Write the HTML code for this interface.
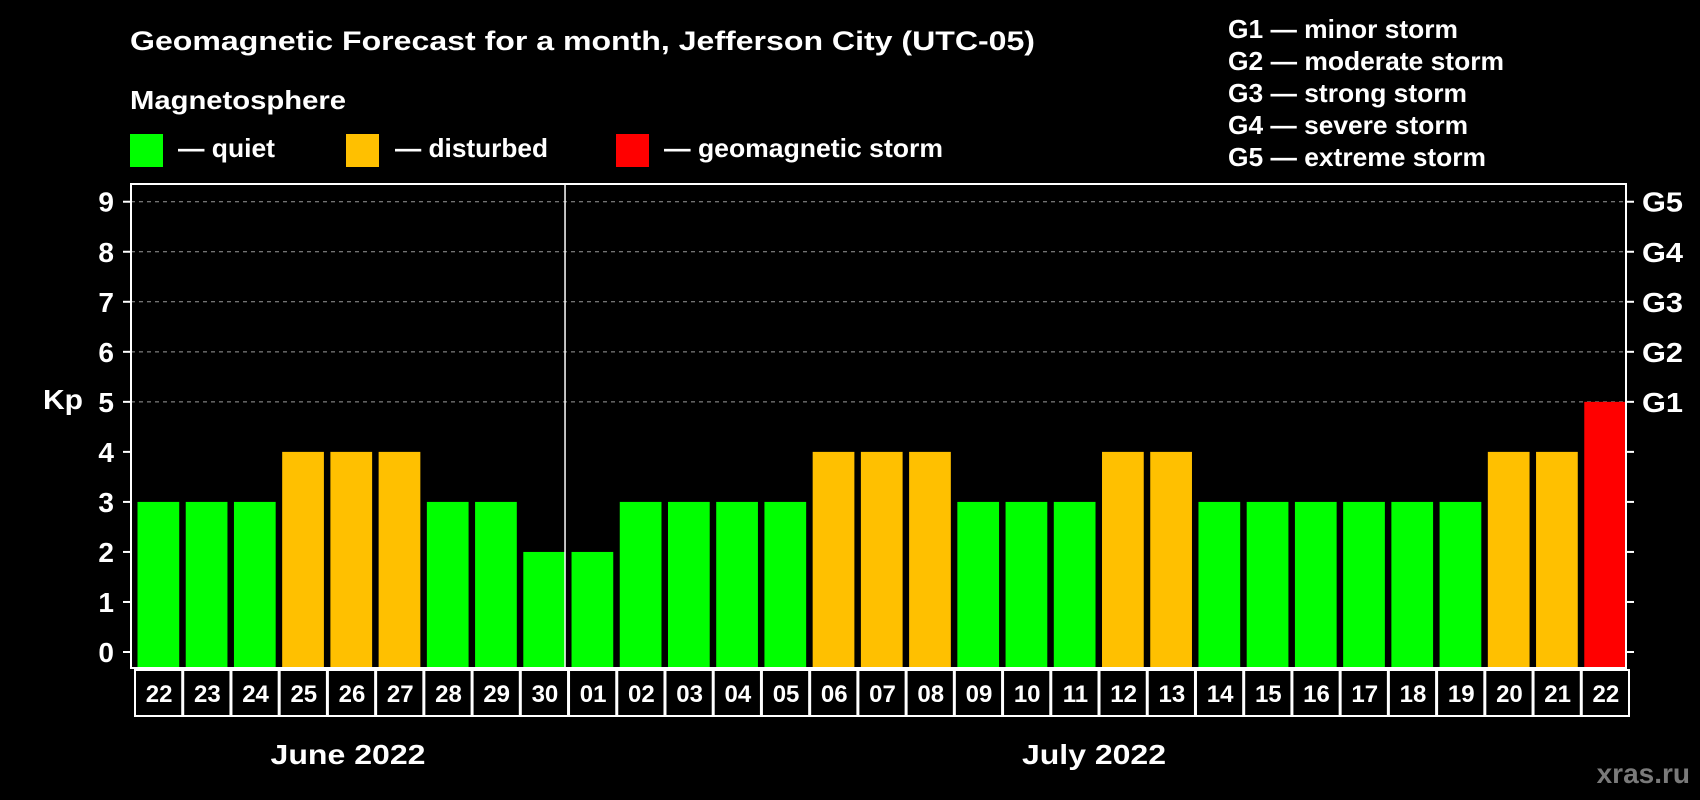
<!DOCTYPE html>
<html><head><meta charset="utf-8"><style>
html,body{margin:0;padding:0;background:#000;width:1700px;height:800px;overflow:hidden}
svg text{font-family:"Liberation Sans",Arial,sans-serif;font-weight:bold;fill:#fff}
</style></head><body>
<svg id="chart" width="1700" height="800" viewBox="0 0 1700 800">
<text x="130" y="50" font-size="27" textLength="905" lengthAdjust="spacingAndGlyphs">Geomagnetic Forecast for a month, Jefferson City (UTC-05)</text>
<text x="130" y="109" font-size="26" textLength="216" lengthAdjust="spacingAndGlyphs">Magnetosphere</text>
<rect x="130" y="134" width="33" height="33" fill="#00ff00"/>
<text x="178" y="157" font-size="26" textLength="97" lengthAdjust="spacingAndGlyphs">— quiet</text>
<rect x="346" y="134" width="33" height="33" fill="#ffc000"/>
<text x="395" y="157" font-size="26" textLength="153" lengthAdjust="spacingAndGlyphs">— disturbed</text>
<rect x="616" y="134" width="33" height="33" fill="#ff0000"/>
<text x="664" y="157" font-size="26" textLength="279" lengthAdjust="spacingAndGlyphs">— geomagnetic storm</text>
<g id="glegend"></g>
<g id="grid"></g><g id="bars"></g><g id="axes"></g>
<text x="43" y="409" font-size="28" textLength="40" lengthAdjust="spacingAndGlyphs">Kp</text>
<text x="348" y="764" font-size="28" text-anchor="middle" textLength="155" lengthAdjust="spacingAndGlyphs">June 2022</text>
<text x="1094" y="764" font-size="28" text-anchor="middle" textLength="144" lengthAdjust="spacingAndGlyphs">July 2022</text>
<text x="1690" y="783" font-size="28" text-anchor="end" style="fill:#7a7a7a">xras.ru</text>
</svg>
<script>
const days = ["22","23","24","25","26","27","28","29","30","01","02","03","04","05","06","07","08","09","10","11","12","13","14","15","16","17","18","19","20","21","22"];
const kpValues = [3,3,3,4,4,4,3,3,2,2,3,3,3,3,4,4,4,3,3,3,4,4,3,3,3,3,3,3,4,4,5];
const yTicks = [0,1,2,3,4,5,6,7,8,9];
const gLabels = ["G1","G2","G3","G4","G5"];
const gLevels = [5,6,7,8,9];
const gLegend = ["G1 — minor storm","G2 — moderate storm","G3 — strong storm","G4 — severe storm","G5 — extreme storm"];
const gLegendWidths = [230,276,239,240,258];
const monthSplit = 9;

const NS="http://www.w3.org/2000/svg";
const L=131,R=1626,T=184,B=668;
const slot=(R-L)/days.length;
const y=v=>652-50.03*v;
const x=i=>L+i*slot;
function mk(tag,attrs,parent){const e=document.createElementNS(NS,tag);for(const k in attrs)e.setAttribute(k,attrs[k]);parent.appendChild(e);return e;}
const grid=document.getElementById('grid'),bars=document.getElementById('bars'),axes=document.getElementById('axes'),gl=document.getElementById('glegend');

gLegend.forEach((t,i)=>{const e=mk('text',{x:1228,y:38+i*32,'font-size':26,textLength:gLegendWidths[i],lengthAdjust:'spacingAndGlyphs'},gl);e.textContent=t;

});

gLevels.forEach(v=>{const l=mk('line',{x1:L,x2:R,y1:y(v),y2:y(v),stroke:'#999','stroke-dasharray':'4,4','stroke-width':1},grid);

});

kpValues.forEach((v,i)=>{const c=v>=5?'#ff0000':(v>=4?'#ffc000':'#00ff00');
const r=mk('rect',{x:x(i)+6.5,y:y(v),width:slot-6.5,height:y(0)-y(v)+16,fill:c},bars);

});
mk('rect',{x:L-2,y:B,width:R-L+4,height:60,fill:'#000'},bars);

const frame=mk('rect',{x:L,y:T,width:R-L,height:B-T,fill:'none',stroke:'#fff','stroke-width':2},axes);


const div=mk('line',{x1:x(monthSplit),x2:x(monthSplit),y1:T,y2:B,stroke:'#fff','stroke-width':1.5},axes);



yTicks.forEach(v=>{mk('line',{x1:L-8,x2:L,y1:y(v),y2:y(v),stroke:'#fff','stroke-width':2},axes);
mk('line',{x1:R,x2:R+8,y1:y(v),y2:y(v),stroke:'#fff','stroke-width':2},axes);
const t=mk('text',{x:114,y:y(v)+10,'font-size':28,'text-anchor':'end'},axes);t.textContent=v;

});
gLabels.forEach((g,i)=>{const t=mk('text',{x:1642,y:y(gLevels[i])+10,'font-size':28,textLength:41,lengthAdjust:'spacingAndGlyphs'},axes);t.textContent=g;

});

days.forEach((d,i)=>{const b=mk('rect',{x:x(i)+4,y:B+2,width:slot-1,height:46,fill:'none',stroke:'#fff','stroke-width':2},axes);


const t=mk('text',{x:x(i)+4+slot/2,y:B+34,'font-size':24,'text-anchor':'middle'},axes);t.textContent=d;

});
</script>
</body></html>
